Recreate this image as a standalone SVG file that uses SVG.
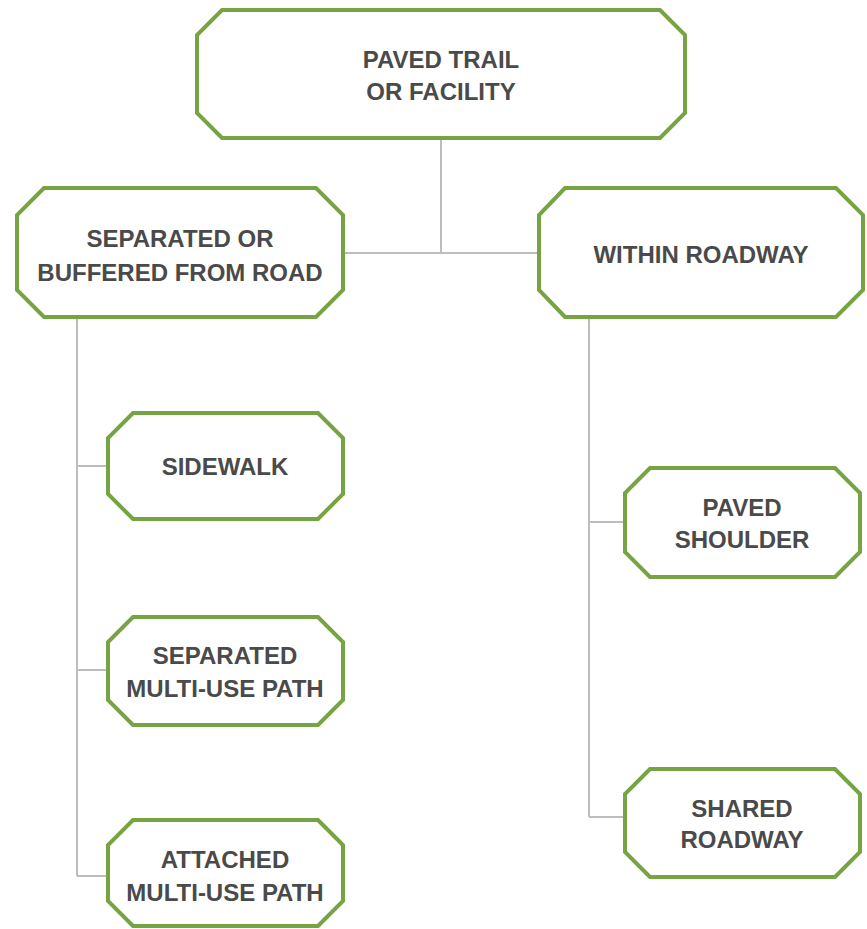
<svg xmlns="http://www.w3.org/2000/svg" width="867" height="929" viewBox="0 0 867 929">
<style>
.box{fill:#ffffff;stroke:#77a443;stroke-width:4;stroke-linejoin:miter}
.lbl{font-family:"Liberation Sans",Arial,sans-serif;font-weight:bold;font-size:24px;fill:#4a4a4a;text-anchor:middle}
.con{fill:none;stroke:#bdbdbd;stroke-width:2}
</style>
<rect width="867" height="929" fill="#ffffff"/>
<g id="connectors">
<path class="con" d="M441 138 V253 M343 253 H539"/>
<path class="con" d="M77 318 V876 M77 466 H108 M77 670 H108 M77 876 H108"/>
<path class="con" d="M589 318 V817 M589 522 H625 M589 817 H625"/>
</g>
<g id="n-root">
<polygon class="box" points="222,10 660,10 685,35 685,113 660,138 222,138 197,113 197,35"/>
<text class="lbl" x="441" y="68">PAVED TRAIL</text>
<text class="lbl" x="441" y="100">OR FACILITY</text>
</g>
<g id="n-separated">
<polygon class="box" points="44,188 316,188 343,215 343,290 316,317 44,317 17,290 17,215"/>
<text class="lbl" x="180" y="247">SEPARATED OR</text>
<text class="lbl" x="180" y="281">BUFFERED FROM ROAD</text>
</g>
<g id="n-within">
<polygon class="box" points="565,188 836,188 863,215 863,290 836,317 565,317 539,290 539,215"/>
<text class="lbl" x="701" y="263">WITHIN ROADWAY</text>
</g>
<g id="n-sidewalk">
<polygon class="box" points="133,413 318,413 343,438 343,494 318,519 133,519 108,494 108,438"/>
<text class="lbl" x="225" y="475">SIDEWALK</text>
</g>
<g id="n-sep-path">
<polygon class="box" points="133,617 318,617 343,642 343,700 318,725 133,725 108,700 108,642"/>
<text class="lbl" x="225" y="664">SEPARATED</text>
<text class="lbl" x="225" y="697">MULTI-USE PATH</text>
</g>
<g id="n-att-path">
<polygon class="box" points="133,820 318,820 343,845 343,901 318,926 133,926 108,901 108,845"/>
<text class="lbl" x="225" y="868">ATTACHED</text>
<text class="lbl" x="225" y="901">MULTI-USE PATH</text>
</g>
<g id="n-shoulder">
<polygon class="box" points="650,468 835,468 860,493 860,552 835,577 650,577 625,552 625,493"/>
<text class="lbl" x="742" y="516">PAVED</text>
<text class="lbl" x="742" y="548">SHOULDER</text>
</g>
<g id="n-shared">
<polygon class="box" points="650,769 835,769 860,794 860,852 835,877 650,877 625,852 625,794"/>
<text class="lbl" x="742" y="817">SHARED</text>
<text class="lbl" x="742" y="848">ROADWAY</text>
</g>
</svg>
